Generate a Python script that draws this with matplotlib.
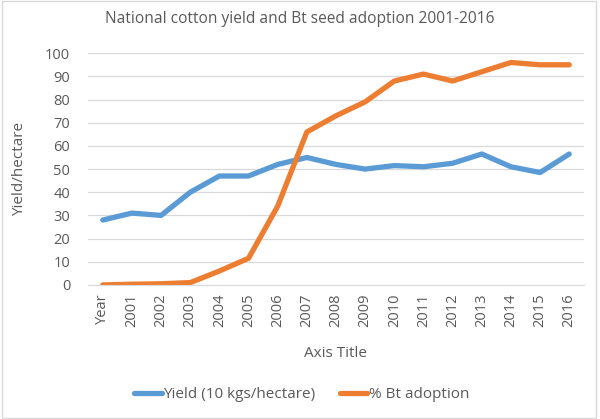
import matplotlib
matplotlib.use("Agg")
import matplotlib.pyplot as plt
from matplotlib.patches import Rectangle

plt.rcParams["font.family"] = ["Open Sans", "DejaVu Sans"]

categories = ["Year", "2001", "2002", "2003", "2004", "2005", "2006", "2007", "2008",
              "2009", "2010", "2011", "2012", "2013", "2014", "2015", "2016"]
yield_vals = [28, 31, 30, 40, 47, 47, 52, 55, 52, 50, 51.5, 51, 52.5, 56.5, 51, 48.5, 56.5]
bt_vals = [0, 0.3, 0.5, 1, 6, 11.5, 34, 66, 73, 79, 88, 91, 88, 92, 96, 95, 95]
yticks = list(range(0, 101, 10))

TXT = "#595959"
BLUE = "#5B9BD5"
ORANGE = "#ED7D31"

fig = plt.figure(figsize=(6, 4.19), dpi=100)
ax = fig.add_axes([0.147, 0.32, 0.826, 0.553])

x = range(len(categories))
ax.plot(x, yield_vals, color=BLUE, linewidth=3.8, solid_capstyle="round",
        label="Yield (10 kgs/hectare)")
ax.plot(x, bt_vals, color=ORANGE, linewidth=3.8, solid_capstyle="round",
        label="% Bt adoption")

ax.set_xlim(-0.5, len(categories) - 0.5)
ax.set_ylim(0, 100)
ax.set_yticks(yticks)
ax.set_xticks(list(x))
ax.set_xticklabels(categories, rotation=90)
ax.tick_params(axis="both", length=0, labelsize=10.5, colors=TXT)
ax.tick_params(axis="y", pad=13)
ax.tick_params(axis="x", pad=6)
ax.grid(axis="y", color="#D9D9D9", linewidth=0.9)
ax.set_axisbelow(True)
for s in ["top", "right", "left"]:
    ax.spines[s].set_visible(False)
ax.spines["bottom"].set_color("#D9D9D9")

ax.set_ylabel("Yield/hectare", fontsize=11, color=TXT, labelpad=13)
ax.set_xlabel("Axis Title", fontsize=11, color=TXT, labelpad=14)
fig.text(0.5, 0.955, "National cotton yield and Bt seed adoption 2001-2016",
         ha="center", va="center", fontsize=11.2, color=TXT)

fig.legend(loc="center", bbox_to_anchor=(0.503, 0.058), ncol=2, frameon=False,
           fontsize=11, labelcolor=TXT, handlelength=1.8, handletextpad=0.1,
           columnspacing=1.6)

fig.patches.append(Rectangle((0.003, 0.003), 0.991, 0.994, transform=fig.transFigure,
                             fill=False, edgecolor="#D9D9D9", linewidth=1))

fig.savefig("out.png", dpi=100)
